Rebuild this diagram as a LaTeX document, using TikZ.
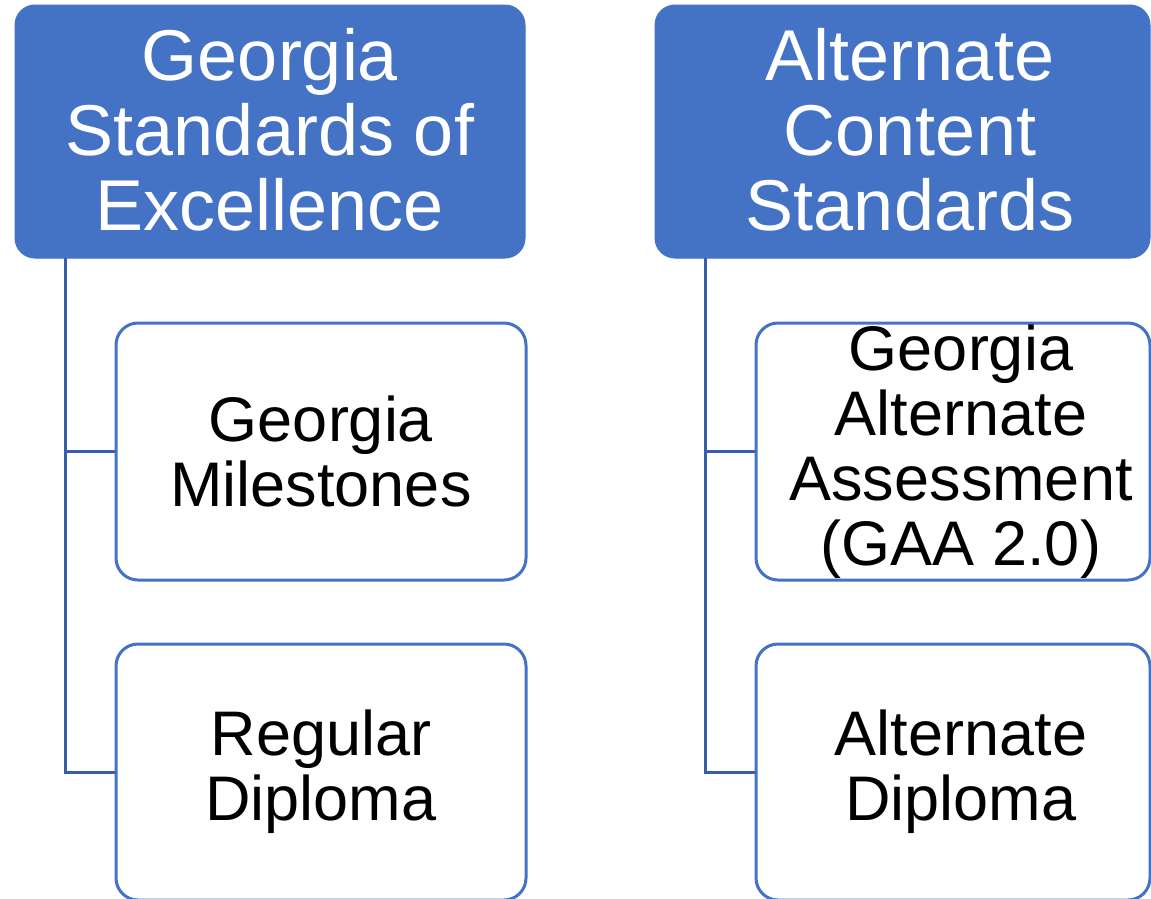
\documentclass[tikz,border=0pt]{standalone}
\usepackage{fontspec}
\setmainfont{Liberation Sans}
\definecolor{hdr}{HTML}{4472C4}
\definecolor{lnk}{HTML}{3A5DA8}
\begin{document}
\begin{tikzpicture}[x=1pt,y=-1pt,
  header/.style={draw=hdr,fill=hdr,line width=1pt,rounded corners=20pt,inner sep=0pt,
    text=white,align=center,font=\fontsize{72}{75}\selectfont},
  child/.style={draw=hdr,fill=white,line width=3pt,rounded corners=22pt,inner sep=0pt,
    text=black,align=center,font=\fontsize{63}{65}\selectfont},
  conn/.style={draw=lnk,line width=3pt}]
\clip (0,0) rectangle (1151,898);
\fill[white] (0,0) rectangle (1151,898);
% headers
\node[header,minimum width=510pt,minimum height=253pt] (h1) at (270,131.5) {};
\node[header,minimum width=495pt,minimum height=253pt] (h2) at (902.5,131.5) {};
\node[text=white,align=center,font=\fontsize{72}{75}\selectfont] (t1) at (270,130) {Georgia\\Standards of\\Excellence};
\node[text=white,align=center,font=\fontsize{72}{75}\selectfont] (t2) at (910,130) {Alternate\\Content\\Standards};
% connectors
\coordinate (a1) at (65,258);
\coordinate (a2) at (705,258);
% children
\node[child,minimum width=410pt,minimum height=257pt] (c1) at (321,451.5) {};
\node[child,minimum width=410pt,minimum height=256pt] (c2) at (321,772) {};
\node[child,minimum width=394pt,minimum height=257pt] (c3) at (953,451.5) {};
\node[child,minimum width=394pt,minimum height=256pt] (c4) at (953,772) {};
\draw[conn] (a1) |- (c1.west);
\draw[conn] (a1) |- (c2.west);
\draw[conn] (a2) |- (c3.west);
\draw[conn] (a2) |- (c4.west);
\node[align=center,font=\fontsize{63}{65}\selectfont] (l1) at (321,451) {Georgia\\Milestones};
\node[align=center,font=\fontsize{63}{65}\selectfont] (l2) at (321,772) {Regular\\Diploma};
\node[align=center,font=\fontsize{63}{65}\selectfont] (l3) at (961,452) {Georgia\\Alternate\\Assessment\\(GAA 2.0)};
\node[align=center,font=\fontsize{63}{65}\selectfont] (l4) at (961,772) {Alternate\\Diploma};
\end{tikzpicture}
\end{document}
